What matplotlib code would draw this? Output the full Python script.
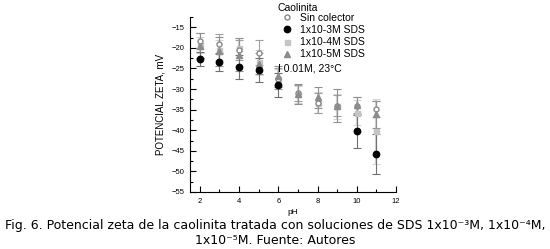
import matplotlib
matplotlib.use("Agg")
import matplotlib.pyplot as plt
from matplotlib.lines import Line2D
from matplotlib.ticker import MultipleLocator

plt.rcParams["font.family"] = ["Liberation Sans", "DejaVu Sans"]

ph = [2, 3, 4, 5, 6, 7, 8, 9, 10, 11]
sin_col = [-18.3, -19.1, -20.5, -21.2, -27.5, -31.0, -33.4, -34.0, -34.0, -34.9]
sin_col_err = [2.0, 2.5, 2.5, 3.0, 2.5, 2.0, 2.5, 2.5, 2.0, 2.0]

ph_3m = [2, 3, 4, 5, 6, 10, 11]
sds_3m = [-22.7, -23.5, -24.6, -25.3, -29.1, -40.3, -45.8]
sds_3m_err = [1.7, 2.2, 2.9, 2.9, 2.9, 4.1, 4.8]

sds_4m = [-19.3, -20.5, -20.0, -23.5, -27.6, -31.3, -33.3, -34.2, -35.7, -40.3]
sds_4m_err = [2.0, 2.5, 2.5, 3.0, 2.5, 2.0, 2.5, 3.0, 3.0, 8.0]

sds_5m = [-19.5, -20.8, -21.7, -23.8, -26.9, -31.2, -32.0, -34.1, -33.9, -36.1]
sds_5m_err = [3.0, 3.5, 4.0, 2.5, 2.5, 2.5, 2.5, 4.0, 2.0, 3.3]

labels = ["Sin colector", "1x10-3M SDS", "1x10-4M SDS", "1x10-5M SDS"]

fig = plt.figure(figsize=(5.5, 2.49), dpi=100)
ax = fig.add_axes([190 / 550, 1 - 192 / 249, (396 - 190) / 550, (192 - 17) / 249])

ax.errorbar(ph, sds_4m, yerr=sds_4m_err, fmt="s", ms=3.6, color="#c4c4c4",
            ecolor="#d4d4d4", elinewidth=1.6, capsize=3, capthick=0.8)
ax.errorbar(ph, sin_col, yerr=sin_col_err, fmt="o", ms=3.6, mfc="white", mec="#8a8a8a",
            ecolor="#a0a0a0", elinewidth=0.8, capsize=3, capthick=0.8)
ax.errorbar(ph, sds_5m, yerr=sds_5m_err, fmt="^", ms=4.2, color="#8c8c8c",
            ecolor="#909090", elinewidth=0.8, capsize=3, capthick=0.8)
ax.errorbar(ph_3m, sds_3m, yerr=sds_3m_err, fmt="o", ms=4.6, color="black",
            ecolor="#707070", elinewidth=0.8, capsize=3, capthick=0.8)

ax.set_xlim(1.5, 12)
ax.set_ylim(-55, -12.5)
ax.xaxis.set_major_locator(MultipleLocator(2))
ax.xaxis.set_minor_locator(MultipleLocator(1))
ax.yaxis.set_major_locator(MultipleLocator(5))
ax.yaxis.set_minor_locator(MultipleLocator(2.5))
ax.tick_params(which="both", direction="in", labelsize=5.5, width=0.8, pad=4)
ax.tick_params(which="major", length=4)
ax.tick_params(which="minor", length=2)
ax.spines["top"].set_visible(False)
ax.spines["right"].set_visible(False)
for s in ["left", "bottom"]:
    ax.spines[s].set_linewidth(0.8)
ax.set_xlabel("pH", fontsize=6, labelpad=3)
ax.set_ylabel("POTENCIAL ZETA, mV", fontsize=7, labelpad=4)

handles = [
    Line2D([], [], ls="none", marker="o", ms=3.6, mfc="white", mec="#8a8a8a"),
    Line2D([], [], ls="none", marker="o", ms=4.6, color="black"),
    Line2D([], [], ls="none", marker="s", ms=3.6, color="#c4c4c4"),
    Line2D([], [], ls="none", marker="^", ms=4.2, color="#8c8c8c"),
]
fig.legend(handles, labels, loc="upper left", bbox_to_anchor=(281 / 550, 1 - 13 / 249),
           frameon=False, fontsize=7.5, labelspacing=0.2, handlelength=1.2,
           handletextpad=0.6, borderpad=0, borderaxespad=0)
fig.text(278 / 550, 1 - 8 / 249, "Caolinita", fontsize=7.5, va="center", ha="left")
fig.text(278 / 550, 1 - 68 / 249, "I 0.01M, 23°C", fontsize=7.5, va="center", ha="left")

cap = ("Fig. 6. Potencial zeta de la caolinita tratada con soluciones de SDS 1x10\u207b\u00b3M, 1x10\u207b\u2074M,\n"
       "1x10\u207b\u2075M. Fuente: Autores")
fig.text(0.5, 1 - 232.5 / 249, cap, ha="center", va="center", fontsize=9,
         family="DejaVu Sans", linespacing=1.2)

fig.savefig("out.png", dpi=100)
